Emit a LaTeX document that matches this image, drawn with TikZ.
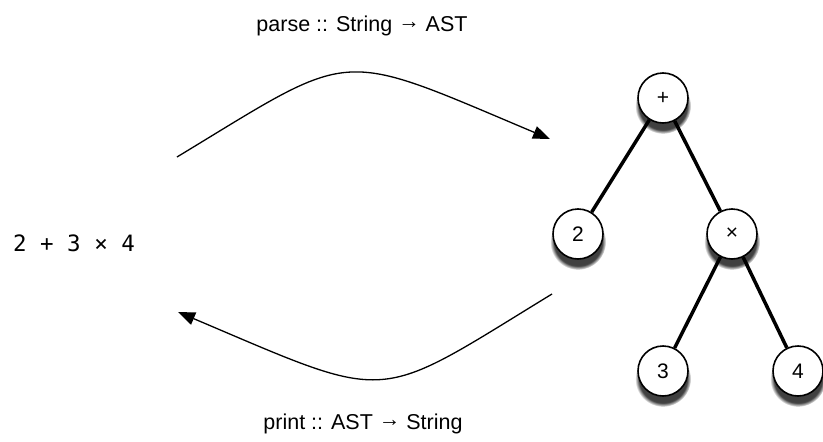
\documentclass[tikz,border=0pt]{standalone}
\usepackage{fontspec}
\setmainfont{Liberation Sans}
\newfontfamily\exprfont{DejaVu Sans Mono}
\usetikzlibrary{arrows.meta,positioning,shadows}
\tikzset{
  treenode/.style={circle, draw=black, line width=1.6pt, fill=white, minimum size=50pt,
    inner sep=0pt, font=\fontsize{21}{21}\selectfont,
    circular drop shadow={shadow xshift=0pt, shadow yshift=-7pt, shadow scale=1.12, fill=black!75}},
  branch/.style={line width=3.5pt, draw=black},
  conv/.style={-{Triangle[length=17pt,width=13pt]}, line width=1.3pt},
  caption/.style={font=\fontsize{21.5}{21.5}\selectfont}
}
\newcommand\maps{\raisebox{0.12em}{→}}

\begin{document}
\begin{tikzpicture}[x=1pt, y=-1pt, on grid]
  \useasboundingbox (0,0) rectangle (823,442);
  % the tree
  \node[treenode] (plus) at (663,98) {+};
  \node[treenode, below left=136pt and 85pt of plus] (two) {2};
  \node[treenode, below right=136pt and 69pt of plus] (times) {×};
  \node[treenode, below left=137pt and 69pt of times] (three) {3};
  \node[treenode, below right=137pt and 66pt of times] (four) {4};
  \draw[branch] (plus) -- (two);
  \draw[branch] (plus) -- (times);
  \draw[branch] (times) -- (three);
  \draw[branch] (times) -- (four);
  % the string
  \node[font=\exprfont\fontsize{22.5}{22.5}\selectfont] (expr) at (74,243) {2 + 3 × 4};
  % the two functions
  \node[caption] (parselbl) at (362,26) {parse :: String \maps{} AST};
  \node[caption] (printlbl) at (363,424) {print :: AST \maps{} String};
  \coordinate (parsefrom) at (177,157);
  \coordinate (parseto) at (550,139);
  \coordinate (printfrom) at (552,294);
  \coordinate (printto) at (178,312);
  \draw[conv] (parsefrom) .. controls (357,48) and (334,48) .. (parseto);
  \draw[conv] (printfrom) .. controls (372,404) and (395,404) .. (printto);
\end{tikzpicture}
\end{document}
